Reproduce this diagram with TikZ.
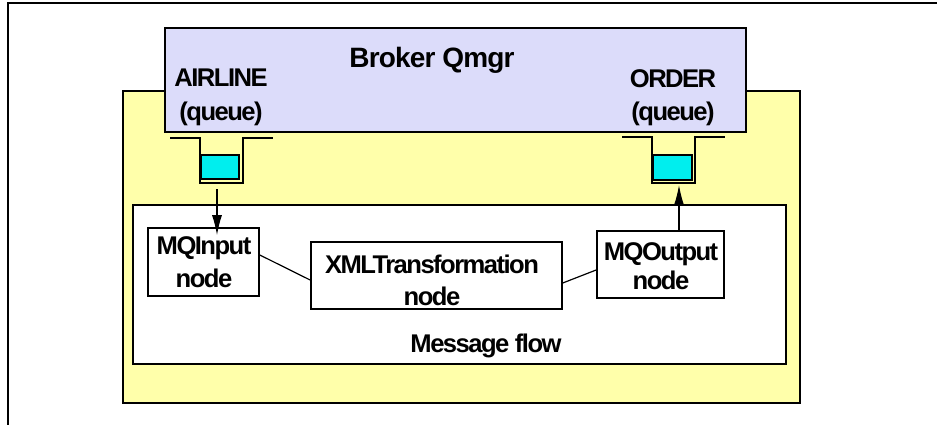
\documentclass[tikz,border=0pt]{standalone}
\usepackage{fontspec}
\setmainfont{Liberation Sans}
\newfontfamily\tightfont[LetterSpace=-6]{Liberation Sans}
\newfontfamily\bigtightfont[LetterSpace=-3]{Liberation Sans}
\usetikzlibrary{arrows.meta,calc}
\definecolor{brokerfill}{RGB}{220,220,250}
\definecolor{paleyellow}{RGB}{255,255,170}
\definecolor{qcyan}{RGB}{0,238,238}
\tikzset{
  lbl/.style={font=\tightfont\bfseries\fontsize{19.2pt}{22pt}\selectfont, inner sep=0pt, anchor=base},
  bigl/.style={font=\bigtightfont\bfseries\fontsize{21pt}{25pt}\selectfont, inner sep=0pt, anchor=base},
  boxline/.style={draw=black, line width=1.2pt},
  flowbox/.style={boxline, fill=white, inner sep=0pt},
  cyanbox/.style={boxline, fill=qcyan, inner sep=0pt},
  ushape/.style={line width=1.2pt},
  conn/.style={line width=0.9pt},
  arr/.style={line width=0.9pt, -{Latex[length=15pt,width=7.5pt]}},
}
\begin{document}
\begin{tikzpicture}[x=0.75pt,y=-0.75pt]
\useasboundingbox (0,0) rectangle (937,425);
% page frame lines
\draw[line width=1pt] (937,3) -- (8,3) -- (8,425);
% yellow execution group
\node[boxline, line width=1.5pt, fill=paleyellow, minimum width=507.75pt, minimum height=234pt, inner sep=0pt] (eg) at (461.5,247) {};
% broker queue manager
\node[boxline, fill=brokerfill, minimum width=435.75pt, minimum height=78pt, inner sep=0pt] (broker) at (455.5,80) {};
\node[bigl] (brokerlbl) at (432,67) {Broker Qmgr};
\node[lbl] (airline) at (221,86) {AIRLINE};
\node[lbl] (airlineq) at (221,120) {(queue)};
\node[lbl] (order) at (673,87) {ORDER};
\node[lbl] (orderq) at (673,120) {(queue)};
% queue shapes
\draw[ushape] (170,138) -- (200,138) -- (200,183) -- (243,183) -- (243,138) -- (273,138);
\draw[ushape] (622,137) -- (652,137) -- (652,183) -- (695,183) -- (695,137) -- (725,137);
\node[cyanbox, minimum width=28.5pt, minimum height=18pt] (qin) at (220,167) {};
\node[cyanbox, minimum width=29.25pt, minimum height=18.75pt] (qout) at (672.5,167.5) {};
% message flow
\node[flowbox, minimum width=489.75pt, minimum height=119.25pt] (flow) at (459.5,284.5) {};
\node[lbl] (flowlbl) at (486,352) {Message flow};
\node[flowbox, minimum width=83.25pt, minimum height=51pt] (mqin) at (203.5,262) {};
\node[lbl] (mqinl1) at (204,254) {MQInput};
\node[lbl] (mqinl2) at (204,287) {node};
\node[flowbox, minimum width=188.25pt, minimum height=50.25pt] (xml) at (436.5,275.5) {};
\node[lbl] (xmll1) at (432,273) {XMLTransformation};
\node[lbl] (xmll2) at (432,305) {node};
\node[flowbox, minimum width=95.25pt, minimum height=50.25pt] (mqout) at (660.5,264.5) {};
\node[lbl] (mqoutl1) at (661,260) {MQOutput};
\node[lbl] (mqoutl2) at (661,289) {node};
% connectors
\draw[conn] ([yshift=5.25pt]mqin.east) -- ([yshift=-3.4pt]xml.west);
\draw[conn] ([yshift=-5.6pt]xml.east) -- ([yshift=-4.1pt]mqout.west);
\coordinate (ain) at (217,189);
\draw[arr, shorten >=-6pt] (ain) -- (ain |- mqin.north);
\coordinate (aout) at (679,185);
\draw[arr] (mqout.north -| aout) -- (aout);
\end{tikzpicture}
\end{document}
